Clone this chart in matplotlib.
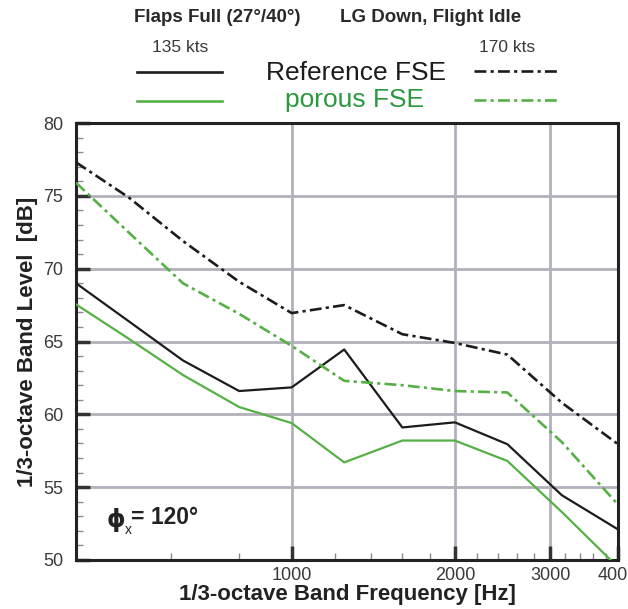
import matplotlib
matplotlib.use("Agg")
import matplotlib.pyplot as plt
from matplotlib.ticker import FixedLocator, NullFormatter

plt.rcParams['font.family'] = ['Liberation Sans', 'DejaVu Sans']

# 1/3-octave band centre frequencies [Hz]
freq = [400, 500, 630, 800, 1000, 1250, 1600, 2000, 2500, 3150, 4000]

# band levels [dB]
ref_135 = [69.0, 66.4, 63.7, 61.6, 61.85, 64.45, 59.1, 59.45, 57.95, 54.45, 52.1]
por_135 = [67.55, 65.2, 62.7, 60.5, 59.4, 56.7, 58.2, 58.2, 56.8, 53.3, 49.5]
ref_170 = [77.3, 74.9, 71.9, 69.1, 66.95, 67.5, 65.5, 64.9, 64.1, 60.8, 57.95]
por_170 = [75.9, 72.5, 69.0, 66.9, 64.7, 62.3, 62.0, 61.6, 61.5, 58.1, 53.8]

x_major = [1000, 2000, 3000, 4000]
x_minor = [600, 800, 1200, 1400, 1600, 1800, 2200, 2400, 2600, 2800,
           3200, 3400, 3600, 3800]

black = '#1c1c1c'
green = '#56b046'
green_txt = '#2a9a3e'
dashdot = (0, (4.5, 1.6, 1.2, 1.6))

W, H = 628, 609
fig = plt.figure(figsize=(W / 100, H / 100), dpi=100)
ax = fig.add_axes([76 / W, 1 - 560 / H, 542 / W, 437 / H])


def px(x, y):
    return x / W, 1 - y / H


ax.plot(freq, ref_135, color=black, lw=1.6, zorder=3)
ax.plot(freq, por_135, color=green, lw=1.6, zorder=3)
ax.plot(freq, ref_170, color=black, lw=1.9, linestyle=dashdot, zorder=3)
ax.plot(freq, por_170, color=green, lw=1.9, linestyle=dashdot, zorder=3)

ax.set_xscale('log')
ax.set_xlim(400, 4000)
ax.set_ylim(50, 80)
ax.xaxis.set_major_locator(FixedLocator(x_major))
ax.xaxis.set_minor_locator(FixedLocator(x_minor))
ax.set_xticklabels([str(v) for v in x_major])
ax.xaxis.set_minor_formatter(NullFormatter())
ax.set_yticks(range(50, 81, 5))
ax.yaxis.set_minor_locator(FixedLocator(range(50, 81)))

ax.grid(True, which='major', color='#b2b0ba', lw=2, zorder=1)
ax.set_axisbelow(True)
for s in ax.spines.values():
    s.set_linewidth(2.2)
    s.set_color('#222222')
ax.tick_params(which='major', direction='in', length=10, width=2.5,
               color='#333333', labelsize=13, labelcolor='#3a3a3a')
ax.tick_params(axis='y', which='major', pad=9)
ax.tick_params(axis='x', which='major', pad=5)
ax.tick_params(which='minor', direction='in', length=5, width=1,
               color='#8a8a8a')

ax.set_xlabel('1/3-octave Band Frequency [Hz]', fontsize=16, fontweight='bold',
              color='#222222', labelpad=0)
ax.set_ylabel('1/3-octave Band Level  [dB]', fontsize=16, fontweight='bold',
              color='#222222', labelpad=4)

# phi annotation
fig.text(*px(107, 520), '\u03d5', fontsize=17, fontweight='bold',
         color='#222222', va='center', ha='left', family='DejaVu Sans')
fig.text(*px(125, 530), 'x', fontsize=10, color='#222222', va='center', ha='left')
fig.text(*px(131, 518), '= 120\u00b0', fontsize=16.5, fontweight='bold',
         color='#222222', va='center', ha='left')

# header / legend
fig.text(*px(134, 18), 'Flaps Full (27\u00b0/40\u00b0)', fontsize=13.5,
         fontweight='bold', color='#2a2a2a', va='center', ha='left')
fig.text(*px(521, 18), 'LG Down, Flight Idle', fontsize=13.5,
         fontweight='bold', color='#2a2a2a', va='center', ha='right')
fig.text(*px(180, 47), '135 kts', fontsize=12.5, color='#3a3a3a',
         va='center', ha='center')
fig.text(*px(507, 47), '170 kts', fontsize=12.5, color='#3a3a3a',
         va='center', ha='center')
fig.text(*px(356, 73), 'Reference FSE', fontsize=19, color='#1c1c1c',
         va='center', ha='center')
fig.text(*px(355, 100), 'porous FSE', fontsize=19, color=green_txt,
         va='center', ha='center')

legend_lines = [
    ((137, 222), 72, black, '-'),
    ((137, 222), 101, green, '-'),
    ((474, 560), 71, black, dashdot),
    ((474, 560), 100, green, dashdot),
]
for (x0, x1), yy, c, ls in legend_lines:
    (fx0, fy), (fx1, _) = px(x0, yy), px(x1, yy)
    fig.add_artist(plt.Line2D([fx0, fx1], [fy, fy], color=c, lw=1.9,
                              linestyle=ls, transform=fig.transFigure))

fig.savefig('out.png', dpi=100)
